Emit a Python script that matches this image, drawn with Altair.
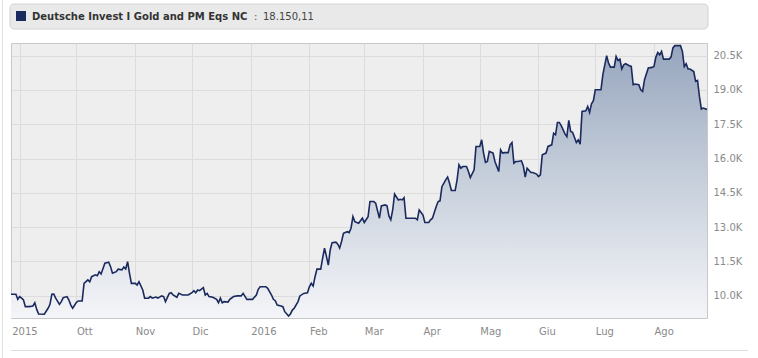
import altair as alt
import pandas as pd

# ---- data (days after 2015-09-01, NAV in thousands) ----
day_offsets_a = [-5, -2, -1, 0, 1, 2, 3, 5, 7, 8, 9, 10, 13, 15, 16, 17, 18, 19, 21, 22, 23, 25, 26, 27, 28, 30,
                 31, 33, 34, 36, 37, 38, 40, 41, 42, 43, 45, 47, 48, 49, 51, 52, 54, 55, 56, 57, 58, 59, 61, 62,
                 63, 65, 66, 68, 69, 70, 72, 73, 75, 76, 77, 79, 80, 81]
values_a = [10.06, 10.06, 9.84, 9.96, 9.89, 9.81, 9.52, 9.52, 9.55, 9.69, 9.40, 9.20, 9.19, 9.45, 9.62, 10.06,
            10.07, 9.89, 9.62, 9.74, 9.91, 9.96, 9.81, 9.59, 9.45, 9.71, 9.77, 9.77, 10.54, 10.69, 10.61, 10.83,
            10.91, 10.87, 11.05, 10.95, 11.42, 11.46, 11.27, 10.98, 11.05, 11.16, 11.13, 11.25, 11.17, 11.49,
            10.98, 10.54, 10.54, 10.47, 10.61, 10.25, 9.89, 9.89, 9.96, 9.89, 9.94, 9.89, 9.99, 9.96, 9.74,
            10.10, 10.13, 10.03]

day_offsets_b = [83, 84, 86, 89, 91, 92, 93, 94, 95, 97, 98, 99, 100, 102, 104, 105, 106, 107, 108, 110, 111,
                 113, 115, 117, 118, 120, 123, 125, 126, 127, 130, 131, 133, 134, 135, 136, 138, 139, 140, 142,
                 143, 144, 145, 147, 148, 150, 152, 153, 154, 155, 156, 157, 159, 160, 161, 162, 163, 164, 165,
                 167, 168, 169, 170, 171, 173, 174]
values_b = [9.93, 10.10, 10.03, 10.03, 10.13, 10.22, 10.13, 10.25, 10.22, 10.35, 10.03, 10.10, 9.96, 9.93,
            9.84, 9.69, 9.89, 9.69, 9.74, 9.72, 9.84, 9.96, 9.99, 9.99, 10.10, 9.84, 9.84, 10.03, 10.28, 10.39,
            10.39, 10.32, 10.03, 9.84, 9.78, 9.59, 9.55, 9.52, 9.30, 9.11, 9.20, 9.37, 9.45, 9.74, 9.99, 10.10,
            10.13, 10.39, 10.54, 10.42, 10.83, 11.16, 11.16, 11.64, 12.08, 11.72, 11.34, 12.00, 12.32, 12.34,
            12.25, 12.08, 12.37, 12.73, 12.80, 12.76]

day_offsets_c = [175, 176, 177, 179, 181, 182, 184, 185, 187, 188, 190, 191, 193, 194, 195, 196, 197, 198, 200,
                 201, 202, 203, 204, 206, 209, 210, 211, 213, 214, 216, 217, 218, 220, 221, 222, 223, 225, 226,
                 227, 228, 230, 231, 232, 233, 234, 236, 237, 238, 240, 241, 243, 244, 245, 246, 247, 248, 250,
                 251, 252, 253, 254, 255, 256, 258, 259, 260, 261, 262, 263]
values_c = [12.95, 13.46, 13.24, 13.17, 13.39, 13.20, 13.46, 14.12, 14.12, 14.05, 13.39, 13.93, 13.97, 13.93,
            13.49, 13.32, 13.75, 14.45, 14.19, 14.22, 14.19, 14.29, 13.39, 13.39, 13.39, 13.32, 13.75, 13.53,
            13.20, 13.20, 13.32, 13.39, 13.90, 14.12, 14.15, 14.77, 15.07, 15.19, 14.93, 14.60, 14.60, 15.07,
            15.73, 15.58, 15.65, 15.65, 15.43, 15.17, 15.51, 16.53, 16.53, 16.82, 16.24, 15.83, 15.87, 16.31,
            16.24, 15.87, 15.65, 15.43, 16.38, 16.24, 16.26, 16.26, 16.60, 16.70, 15.80, 15.87, 15.87]

day_offsets_d = [265, 266, 267, 268, 270, 271, 273, 274, 275, 276, 278, 279, 281, 282, 283, 284, 285, 286, 288,
                 289, 290, 291, 292, 294, 295, 296, 297, 299, 300, 301, 302, 303, 304, 307, 308, 310, 311, 312,
                 314, 315, 316, 317, 318, 319, 320, 322, 323, 324, 325, 327, 328, 329, 330, 332, 334, 335, 336,
                 337, 338, 339, 340, 343, 344, 345, 346, 349, 350, 351, 352, 353, 354, 356, 357, 358, 359, 360,
                 361, 363]
values_d = [15.90, 15.68, 15.19, 15.58, 15.39, 15.39, 15.32, 15.21, 15.29, 16.16, 16.24, 16.53, 16.60, 17.11,
            17.04, 17.58, 17.58, 17.44, 17.08, 16.96, 17.67, 17.19, 17.15, 16.70, 16.82, 16.63, 18.06, 18.09,
            18.28, 18.02, 18.40, 18.53, 19.01, 19.01, 19.67, 20.50, 20.18, 20.00, 20.00, 20.47, 20.29, 20.35,
            19.92, 20.10, 20.15, 20.06, 20.03, 19.23, 19.26, 19.23, 19.01, 18.94, 19.45, 19.96, 19.99, 20.03,
            20.44, 20.64, 20.54, 20.69, 20.35, 20.35, 20.44, 20.84, 20.94, 20.94, 20.69, 20.03, 20.15, 19.92,
            19.92, 19.81, 19.38, 19.42, 18.72, 18.17, 18.21, 18.15011]

start_date = "2015-09-01"
month_names = ["Gen", "Feb", "Mar", "Apr", "Mag", "Giu", "Lug", "Ago", "Set", "Ott", "Nov", "Dic"]
tick_months = [(2015, 9), (2015, 10), (2015, 11), (2015, 12), (2016, 1), (2016, 2), (2016, 3),
               (2016, 4), (2016, 5), (2016, 6), (2016, 7), (2016, 8)]
y_ticks = [10000, 11500, 13000, 14500, 16000, 17500, 19000, 20500]
y_min, y_max = 9023, 21056
legend_name = "Deutsche Invest I Gold and PM Eqs NC"
legend_value = "18.150,11"

days = day_offsets_a + day_offsets_b + day_offsets_c + day_offsets_d
vals = values_a + values_b + values_c + values_d
dates = (pd.Timestamp(start_date) + pd.to_timedelta(days, unit="D")).strftime("%Y-%m-%d")
df = pd.DataFrame({"date": list(dates), "nav": [v * 1000 for v in vals]})

NAVY = "#1a2a5e"
W, H = 696, 275

x_enc = alt.X(
    "date:T",
    scale=alt.Scale(type="utc",
                    domain=[alt.DateTime(year=2015, month=8, date=27, hours=10, utc=True),
                            alt.DateTime(year=2016, month=8, date=29, utc=True)]),
    axis=alt.Axis(
        values=[alt.DateTime(year=y, month=m, date=1, utc=True) for y, m in tick_months],
        tickCount=len(tick_months) + 2,
        labelExpr="(utcmonth(datum.value)==0 || utcmonth(datum.value)==8) ? utcFormat(datum.value,'%Y') : "
                  + str(month_names) + "[utcmonth(datum.value)]",
        labelAlign="left",
        labelOffset={"condition": {"test": "utcmonth(datum.value)==8", "value": -8}, "value": 0},
        labelPadding=8,
        labelColor="#8a8a8a",
        labelFontSize=10,
        labelOverlap=False,
        grid=True,
        gridColor="#dcdcdc",
        ticks=False,
        domain=False,
        title=None,
    ),
)
y_enc = alt.Y(
    "nav:Q",
    scale=alt.Scale(domain=[y_min, y_max], nice=False, zero=False),
    axis=alt.Axis(
        orient="right",
        values=y_ticks,
        tickCount=len(y_ticks) + 2,
        labelExpr="format(datum.value/1000,'.1f') + 'K'",
        labelColor="#8a8a8a",
        labelFontSize=10,
        labelPadding=6,
        labelOverlap=False,
        labelFlush=False,
        grid=True,
        gridColor="#dcdcdc",
        ticks=False,
        domain=False,
        title=None,
    ),
)

area = alt.Chart(df).mark_area(
    clip=True,
    color=alt.Gradient(
        gradient="linear",
        stops=[alt.GradientStop(color="#97a6be", offset=0),
               alt.GradientStop(color="#c3ccd9", offset=0.45),
               alt.GradientStop(color="#f4f5f8", offset=1)],
        x1=1, x2=1, y1=0, y2=1,
    ),
).encode(x=x_enc, y=y_enc, y2=alt.Y2(datum=y_min))

line = alt.Chart(df).mark_line(clip=True, color=NAVY, strokeWidth=1.6).encode(x="date:T", y="nav:Q")

one = pd.DataFrame({"k": [0]})
legend_box = alt.Chart(one).mark_rect(
    fill="#e9e9e9", stroke="#d2d2d2", strokeWidth=1, cornerRadius=4
).encode(x=alt.value(-1), x2=alt.value(697), y=alt.value(-39), y2=alt.value(-14))
legend_sq = alt.Chart(one).mark_rect(fill=NAVY).encode(
    x=alt.value(5), x2=alt.value(15), y=alt.value(-32), y2=alt.value(-22))
legend_txt = alt.Chart(one).mark_text(
    align="left", baseline="middle", fontSize=10, fontWeight="bold", color="#333333", font="DejaVu Sans"
).encode(x=alt.value(21), y=alt.value(-26.5), text=alt.value(legend_name))
legend_colon = alt.Chart(one).mark_text(
    align="left", baseline="middle", fontSize=10, color="#555555", font="DejaVu Sans"
).encode(x=alt.value(243), y=alt.value(-26.5), text=alt.value(":"))
legend_val = alt.Chart(one).mark_text(
    align="left", baseline="middle", fontSize=10, color="#444444", font="DejaVu Sans"
).encode(x=alt.value(252), y=alt.value(-26.5), text=alt.value(legend_value))
bottom_rule = alt.Chart(one).mark_rule(color="#dddddd").encode(
    x=alt.value(0), x2=alt.value(737), y=alt.value(307.5))
left_rule = alt.Chart(one).mark_rule(color="#e2e2e2").encode(
    x=alt.value(-8.5), y=alt.value(-43), y2=alt.value(315))

chart = alt.layer(
    area, line, legend_box, legend_sq, legend_txt, legend_colon, legend_val, bottom_rule, left_rule
).properties(
    width=W, height=H,
    autosize="none",
    padding={"left": 11, "top": 43, "right": 51, "bottom": 40},
    background="white",
).configure(font="DejaVu Sans").configure_view(fill="#eeeeee", stroke="#c8c8c8", strokeWidth=1)

chart.save("out.html", embed_options={"renderer": "svg", "actions": False})
